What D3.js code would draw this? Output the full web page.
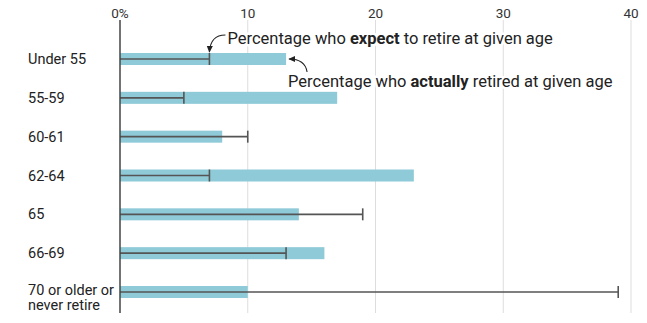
<!DOCTYPE html>
<html>
<head>
<meta charset="utf-8">
<script src="https://cdn.jsdelivr.net/npm/d3@7"></script>
<style>
  body { margin: 0; background: #fff; }
  svg text { font-family: Roboto, "Liberation Sans", sans-serif; fill: #222; }
</style>
</head>
<body>
<div id="chart"></div>
<script>
// values (percent)
const categories = ['Under 55', '55-59', '60-61', '62-64', '65', '66-69', '70 or older or never retire'];
const actuallyRetired = [13, 17, 8, 23, 14, 16, 10];
const expectToRetire = [7, 5, 10, 7, 19, 13, 39];
const tickValues = [0, 10, 20, 30, 40];
const tickLabels = ['0%', '10', '20', '30', '40'];

const width = 647, height = 323;

const svg = d3.select('#chart').append('svg')
    .attr('width', width).attr('height', height);

const x = d3.scaleLinear().domain([0, 40]).range([120, 631]);
const y = d3.scalePoint().domain(categories).range([59, 292]);

const barH = 12;

// gridlines + top tick labels
svg.append('g').selectAll('line')
  .data(tickValues.slice(1))
  .enter().append('line')
    .attr('x1', d => x(d)).attr('x2', d => x(d))
    .attr('y1', 20).attr('y2', 313)
    .attr('stroke', '#ddd').attr('stroke-width', 1);

svg.append('g').selectAll('text')
  .data(tickValues)
  .enter().append('text')
    .attr('x', d => x(d)).attr('y', 18)
    .attr('text-anchor', 'middle')
    .style('font-size', '13.5px')
    .style('fill', '#333')
    .text((d, i) => tickLabels[i]);

// actual bars
svg.append('g').selectAll('rect')
  .data(categories)
  .enter().append('rect')
    .attr('x', x(0))
    .attr('y', d => y(d) - barH/2)
    .attr('width', (d, i) => x(actuallyRetired[i]) - x(0))
    .attr('height', barH)
    .attr('fill', '#8ecad8');

// expected: line with end cap
const exp = svg.append('g').attr('stroke', '#555').attr('stroke-width', 1.6);
exp.selectAll('line.stem')
  .data(categories)
  .enter().append('line')
    .attr('class', 'stem')
    .attr('x1', x(0)).attr('x2', (d, i) => x(expectToRetire[i]))
    .attr('y1', d => y(d)).attr('y2', d => y(d));
exp.selectAll('line.cap')
  .data(categories)
  .enter().append('line')
    .attr('class', 'cap')
    .attr('x1', (d, i) => x(expectToRetire[i])).attr('x2', (d, i) => x(expectToRetire[i]))
    .attr('y1', d => y(d) - 6).attr('y2', d => y(d) + 6);

// left axis line
svg.append('line')
  .attr('x1', x(0)).attr('x2', x(0))
  .attr('y1', 20).attr('y2', 313)
  .attr('stroke', '#444').attr('stroke-width', 1.5);

// category labels
const lab = svg.append('g').selectAll('text')
  .data(categories)
  .enter().append('text')
    .attr('x', 28)
    .attr('y', d => y(d) + 5)
    .style('font-size', '14.5px');
lab.each(function(d) {
  const t = d3.select(this);
  if (d.startsWith('70')) {
    t.attr('y', y(d) + 3);
    t.append('tspan').attr('x', 28).text('70 or older or');
    t.append('tspan').attr('x', 28).attr('dy', 15).text('never retire');
  } else t.text(d);
});

// annotations
svg.append('defs').append('marker')
    .attr('id', 'arr').attr('viewBox', '0 0 10 10')
    .attr('refX', 8).attr('refY', 5)
    .attr('markerWidth', 7).attr('markerHeight', 7)
    .attr('orient', 'auto')
  .append('path').attr('d', 'M0,1 L9,5 L0,9 Z').attr('fill', '#222');

const y0 = y(categories[0]);
const ex0 = x(expectToRetire[0]), ac0 = x(actuallyRetired[0]);

function note(tx, ty, parts) {
  const t = svg.append('text').attr('x', tx).attr('y', ty)
    .style('font-size', '16.5px')
    .attr('stroke', '#fff').attr('stroke-width', 5)
    .attr('paint-order', 'stroke').attr('stroke-linejoin', 'round');
  parts.forEach(p => t.append('tspan').style('font-weight', p[1] ? 700 : 400).text(p[0]));
}
note(ex0 + 18, y0 - 15, [['Percentage who ', 0], ['expect', 1], [' to retire at given age', 0]]);
note(ac0 + 2, y0 + 28, [['Percentage who ', 0], ['actually', 1], [' retired at given age', 0]]);

svg.append('path')
  .attr('d', `M${ex0 + 16},${y0 - 24} Q${ex0 + 1},${y0 - 24} ${ex0},${y0 - 7}`)
  .attr('fill', 'none').attr('stroke', '#222').attr('stroke-width', 1.1)
  .attr('marker-end', 'url(#arr)');
svg.append('path')
  .attr('d', `M${ac0 + 21},${y0 + 13} Q${ac0 + 19},${y0} ${ac0 + 3},${y0}`)
  .attr('fill', 'none').attr('stroke', '#222').attr('stroke-width', 1.1)
  .attr('marker-end', 'url(#arr)');
</script>
</body>
</html>
